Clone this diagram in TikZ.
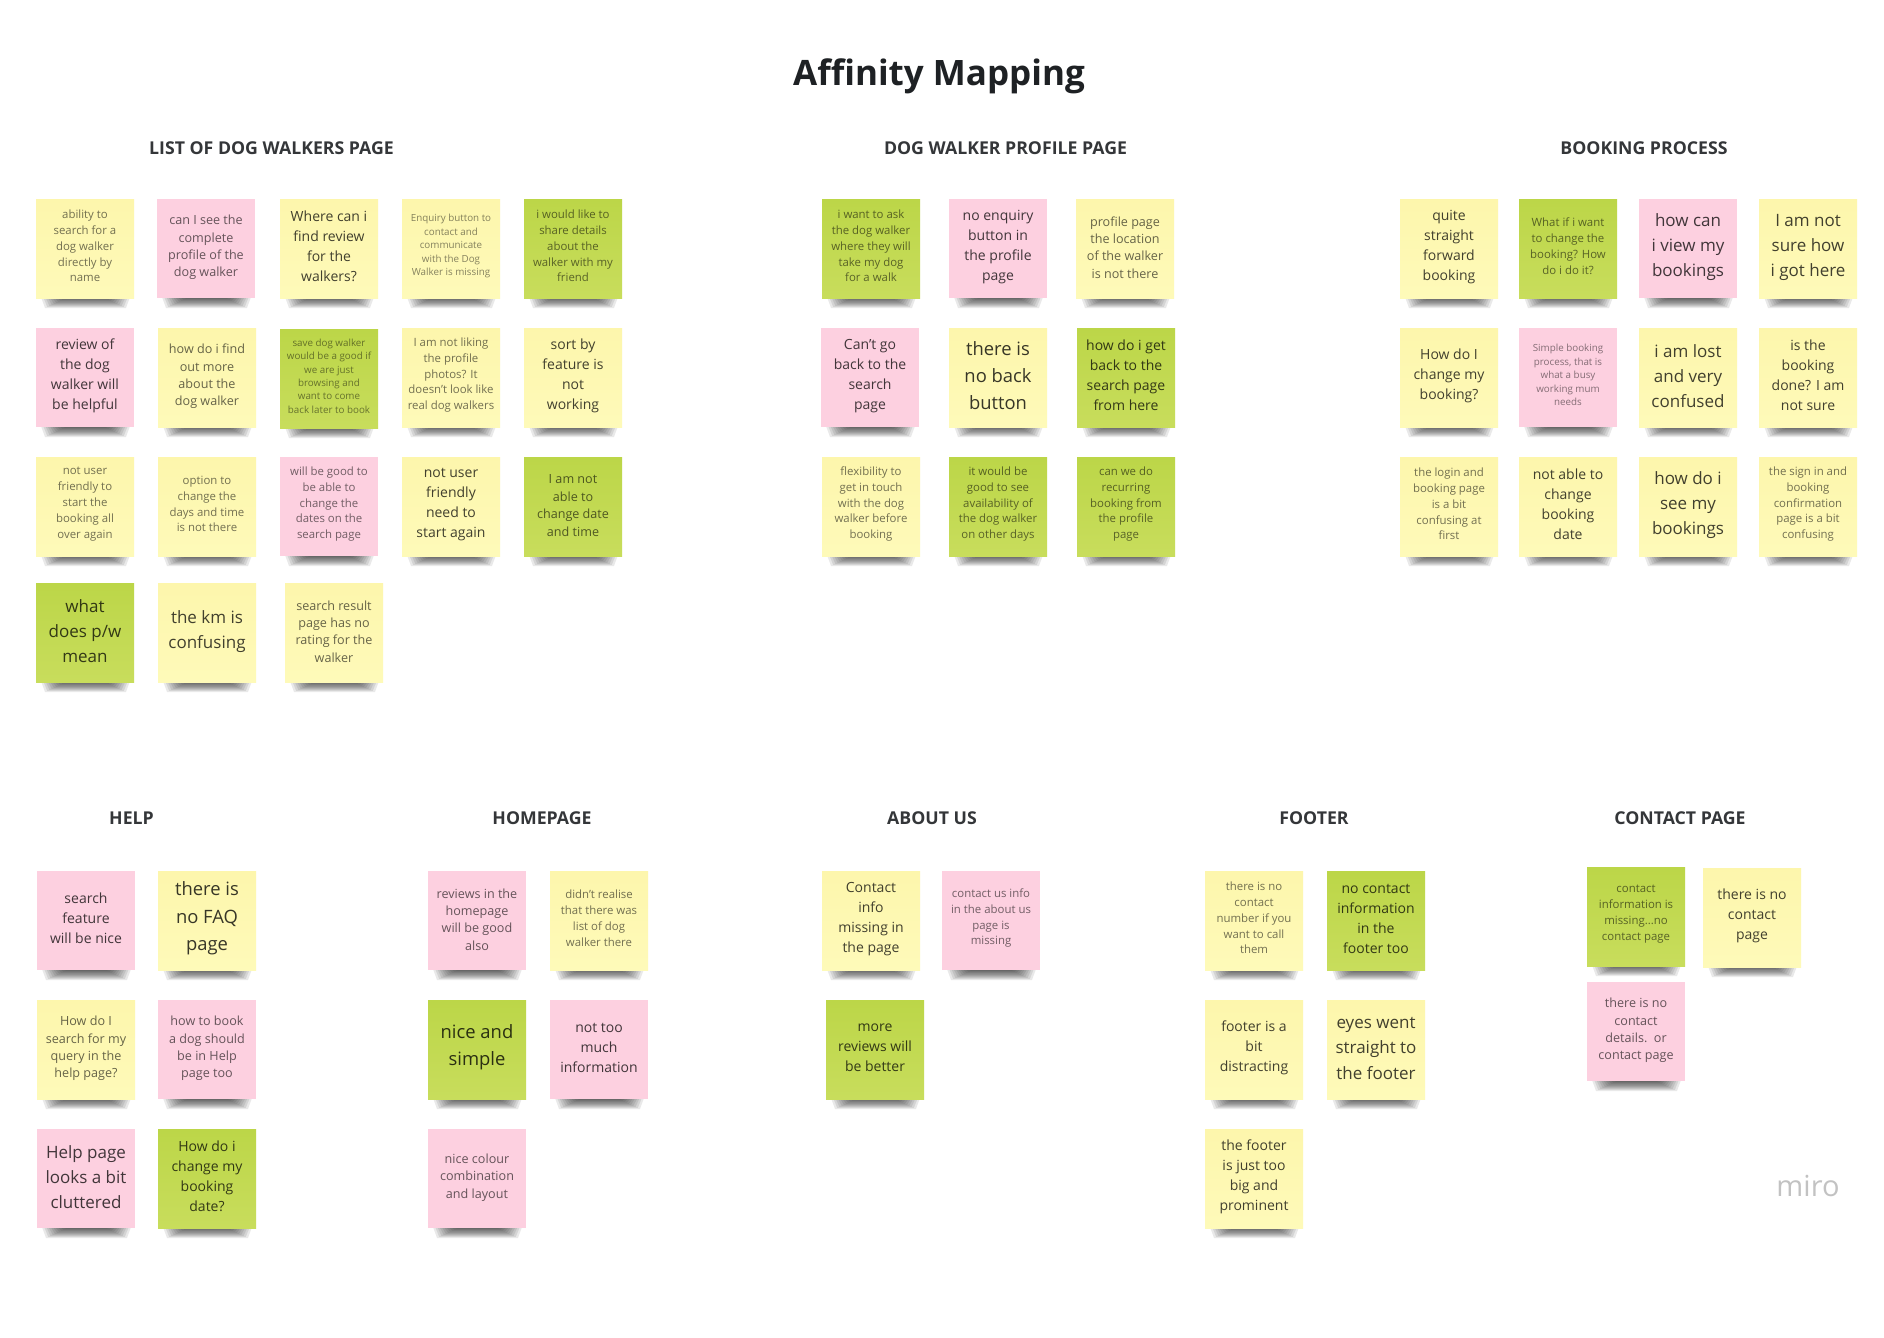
\documentclass[tikz,border=0pt]{standalone}
\usepackage{fontspec}
\setmainfont{Open Sans}
\definecolor{nytop}{HTML}{FDF6AC}
\definecolor{nybot}{HTML}{FEFAB9}
\definecolor{np}{HTML}{FDD0E0}
\definecolor{ngtop}{HTML}{BCD648}
\definecolor{ngbot}{HTML}{C8DD5C}
\definecolor{ink}{HTML}{1E2124}
\tikzset{
  x=.5pt,y=-.5pt,
  cy/.style={top color=nytop,bottom color=nybot},
  cp/.style={fill=np},
  cg/.style={top color=ngtop,bottom color=ngbot},
  sa/.style={font=\fontsize{4.9}{6.7}\selectfont,text opacity=.48,yshift=1.2pt},
  sb/.style={font=\fontsize{5.7}{7.9}\selectfont,text opacity=.55,yshift=1.2pt},
  sc/.style={font=\fontsize{6.3}{8.7}\selectfont,text opacity=.6,yshift=.5pt},
  sd/.style={font=\fontsize{7}{10}\selectfont,text opacity=.74,yshift=.9pt},
  se/.style={font=\fontsize{8.5}{12.6}\selectfont,text opacity=.74,yshift=.6pt},
  sf/.style={font=\fontsize{9.2}{13.7}\selectfont,text opacity=.78,yshift=1pt},
  stick/.style={minimum width=49pt,minimum height=49.5pt,inner sep=0pt},
  words/.style={inner sep=0pt,align=center,text=black},
  head/.style={font=\fontsize{8.85}{11}\bfseries\selectfont,text=ink,text opacity=.9},
}
\newcommand{\stickynote}[6]{%
  \foreach \k in {0,...,9}{
    \fill[black,opacity=.085] ({#2+5+\k*2.2},{#3+98}) -- ({#2+94-\k*2.2},{#3+98}) -- ({#2+90-\k*2.2},{#3+109-\k*1.05}) -- ({#2+9+\k*2.2},{#3+109-\k*1.05}) -- cycle;
  }
  \node[stick,c#4] (#1) at ({#2+49},{#3+49.5}) {};
  \node[words,#5] (#1t) at (#1) {#6};
}
\begin{document}
\begin{tikzpicture}
\useasboundingbox[fill=white] (0,0) rectangle (1884,1338);
\node[font=\fontsize{17.5}{22}\bfseries\selectfont,text=ink] (title) at (939,76) {Affinity Mapping};
\node[head] (h1) at (271.5,148) {LIST OF DOG WALKERS PAGE};
\node[head] (h2) at (1005.5,148) {DOG WALKER PROFILE PAGE};
\node[head] (h3) at (1644,148) {BOOKING PROCESS};
\node[head] (h4) at (131.5,818.5) {HELP};
\node[head] (h5) at (542,818.5) {HOMEPAGE};
\node[head] (h6) at (932,818.5) {ABOUT US};
\node[head] (h7) at (1314,818.5) {FOOTER};
\node[head] (h8) at (1680,818.5) {CONTACT PAGE};
% list of dog walkers
\stickynote{a1}{36}{199}{y}{sb}{ability to\\search for a\\dog walker\\directly by\\name}
\stickynote{a2}{157}{199}{p}{sc}{can I see the\\complete\\profile of the\\dog walker}
\stickynote{a3}{280}{199}{y}{sd}{Where can i\\find review\\for the\\walkers?}
\stickynote{a4}{402}{199}{y}{sa}{Enquiry button to\\contact and\\communicate\\with the Dog\\Walker is missing}
\stickynote{a5}{524}{199}{g}{sb}{i would like to\\share details\\about the\\walker with my\\friend}
\stickynote{a6}{36}{328}{p}{sd}{review of\\the dog\\walker will\\be helpful}
\stickynote{a7}{158}{328}{y}{sc}{how do i find\\out more\\about the\\dog walker}
\stickynote{a8}{280}{329}{g}{sa}{save dog walker\\would be a good if\\we are just\\browsing and\\want to come\\back later to book}
\stickynote{a9}{402}{328}{y}{sb}{I am not liking\\the profile\\photos? It\\doesn't look like\\real dog walkers}
\stickynote{a10}{524}{328}{y}{sd}{sort by\\feature is\\not\\working}
\stickynote{a11}{36}{457}{y}{sb}{not user\\friendly to\\start the\\booking all\\over again}
\stickynote{a12}{158}{457}{y}{sb}{option to\\change the\\days and time\\is not there}
\stickynote{a13}{280}{457}{p}{sb}{will be good to\\be able to\\change the\\dates on the\\search page}
\stickynote{a14}{402}{457}{y}{sd}{not user\\friendly\\need to\\start again}
\stickynote{a15}{524}{457}{g}{sc}{I am not\\able to\\change date\\and time}
\stickynote{a16}{36}{583}{g}{se}{what\\does p/w\\mean}
\stickynote{a17}{158}{583}{y}{se}{the km is\\confusing}
\stickynote{a18}{285}{583}{y}{sc}{search result\\page has no\\rating for the\\walker}
% profile
\stickynote{b1}{822}{199}{g}{sb}{i want to ask\\the dog walker\\where they will\\take my dog\\for a walk}
\stickynote{b2}{949}{199}{p}{sd}{no enquiry\\button in\\the profile\\page}
\stickynote{b3}{1076}{199}{y}{sc}{profile page\\the location\\of the walker\\is not there}
\stickynote{b4}{821}{328}{p}{sd}{Can't go\\back to the\\search\\page}
\stickynote{b5}{949}{328}{y}{sf}{there is\\no back\\button}
\stickynote{b6}{1077}{328}{g}{sd}{how do i get\\back to the\\search page\\from here}
\stickynote{b7}{822}{457}{y}{sb}{flexibility to\\get in touch\\with the dog\\walker before\\booking}
\stickynote{b8}{949}{457}{g}{sb}{it would be\\good to see\\availability of\\the dog walker\\on other days}
\stickynote{b9}{1077}{457}{g}{sb}{can we do\\recurring\\booking from\\the profile\\page}
% booking
\stickynote{c1}{1400}{199}{y}{sd}{quite\\straight\\forward\\booking}
\stickynote{c2}{1519}{199}{g}{sb}{What if i want\\to change the\\booking? How\\do i do it?}
\stickynote{c3}{1639}{199}{p}{se}{how can\\i view my\\bookings}
\stickynote{c4}{1759}{199}{y}{se}{I am not\\sure how\\i got here}
\stickynote{c5}{1400}{328}{y}{sd}{How do I\\change my\\booking?}
\stickynote{c6}{1519}{328}{p}{sa}{Simple booking\\process, that is\\what a busy\\working mum\\needs}
\stickynote{c7}{1639}{328}{y}{se}{i am lost\\and very\\confused}
\stickynote{c8}{1759}{328}{y}{sd}{is the\\booking\\done? I am\\not sure}
\stickynote{c9}{1400}{457}{y}{sb}{the login and\\booking page\\is a bit\\confusing at\\first}
\stickynote{c10}{1519}{457}{y}{sd}{not able to\\change\\booking\\date}
\stickynote{c11}{1639}{457}{y}{se}{how do i\\see my\\bookings}
\stickynote{c12}{1759}{457}{y}{sb}{the sign in and\\booking\\confirmation\\page is a bit\\confusing}
% help
\stickynote{d1}{37}{871}{p}{sd}{search\\feature\\will be nice}
\stickynote{d2}{158}{871}{y}{sf}{there is\\no FAQ\\page}
\stickynote{d3}{37}{1000}{y}{sc}{How do I\\search for my\\query in the\\help page?}
\stickynote{d4}{158}{1000}{p}{sc}{how to book\\a dog should\\be in Help\\page too}
\stickynote{d5}{37}{1129}{p}{se}{Help page\\looks a bit\\cluttered}
\stickynote{d6}{158}{1129}{g}{sd}{How do i\\change my\\booking\\date?}
% homepage
\stickynote{e1}{428}{871}{p}{sc}{reviews in the\\homepage\\will be good\\also}
\stickynote{e2}{550}{871}{y}{sb}{didn't realise\\that there was\\list of dog\\walker there}
\stickynote{e3}{428}{1000}{g}{sf}{nice and\\simple}
\stickynote{e4}{550}{1000}{p}{sd}{not too\\much\\information}
\stickynote{e5}{428}{1129}{p}{sc}{nice colour\\combination\\and layout}
% about
\stickynote{f1}{822}{871}{y}{sd}{Contact\\info\\missing in\\the page}
\stickynote{f2}{942}{871}{p}{sb}{contact us info\\in the about us\\page is\\missing}
\stickynote{f3}{826}{1000}{g}{sd}{more\\reviews will\\be better}
% footer
\stickynote{g1}{1205}{871}{y}{sb}{there is no\\contact\\number if you\\want to call\\them}
\stickynote{g2}{1327}{871}{g}{sd}{no contact\\information\\in the\\footer too}
\stickynote{g3}{1205}{1000}{y}{sd}{footer is a\\bit\\distracting}
\stickynote{g4}{1327}{1000}{y}{se}{eyes went\\straight to\\the footer}
\stickynote{g5}{1205}{1129}{y}{sd}{the footer\\is just too\\big and\\prominent}
% contact
\stickynote{k1}{1587}{867}{g}{sb}{contact\\information is\\missing...no\\contact page}
\stickynote{k2}{1703}{868}{y}{sd}{there is no\\contact\\page}
\stickynote{k3}{1587}{982}{p}{sc}{there is no\\contact\\details.\ \ or\\contact page}
\node[font=\fontsize{14.5}{16}\selectfont,text=black!24] (miro) at (1808,1186) {miro};
\end{tikzpicture}
\end{document}
